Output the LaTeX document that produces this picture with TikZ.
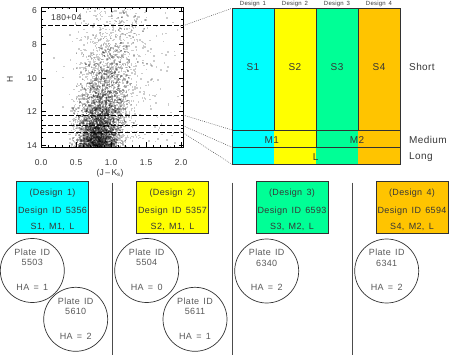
\documentclass[tikz,border=0pt]{standalone}
\usepackage{fontspec}
\setmainfont{Liberation Sans}
\newfontfamily\widefont[LetterSpace=4]{Liberation Sans}
\newfontfamily\widerfont[LetterSpace=4,WordSpace=1.5]{Liberation Sans}
\definecolor{dcyan}{RGB}{0,255,255}
\definecolor{dyellow}{RGB}{255,255,0}
\definecolor{dgreen}{RGB}{0,255,150}
\definecolor{dorange}{RGB}{255,196,0}
\definecolor{txt}{RGB}{55,55,55}
\definecolor{lin}{RGB}{50,50,50}
\begin{document}
\begin{tikzpicture}[x=1pt,y=-1pt,
  every node/.style={text=txt, inner sep=0pt},
  ticklab/.style={font=\widefont\fontsize{8.5}{9}\selectfont},
  dashln/.style={draw=black, line width=0.8pt, dash pattern=on 4.5pt off 2.5pt},
  dotln/.style={draw=black!70, line width=0.5pt, dash pattern=on 0.8pt off 1.2pt},
  panelln/.style={draw=lin, line width=0.8pt},
  colbox/.style={minimum width=42pt, minimum height=156pt, draw=none},
  dbox/.style={draw=lin, line width=0.7pt, minimum width=72pt, minimum height=52pt},
  dtext/.style={font=\widerfont\fontsize{9}{10}\selectfont},
  plate/.style={circle, draw=lin, line width=0.7pt, minimum size=64pt},
  ptext/.style={font=\widerfont\fontsize{9}{10}\selectfont, text=black!65},
  seprule/.style={draw=black!70, line width=0.9pt},
  rowlab/.style={font=\widefont\fontsize{10}{11}\selectfont, anchor=west},
  collab/.style={font=\widefont\fontsize{6}{7}\selectfont},
  slab/.style={font=\widefont\fontsize{10}{11}\selectfont}
]
\useasboundingbox (0,0) rectangle (449,355);

% ---------- scatter plot ----------
\pgfmathsetseed{271}
\begin{scope}
\clip (41,7.3) rectangle (183,147);
\begin{scope}[fill opacity=0.2]
\foreach \i in {1,...,4600}{
  \pgfmathsetmacro{\myH}{14.3+2.6*ln(0.0005+0.9995*rnd)}
  \pgfmathsetmacro{\myG}{2*(rnd+rnd+rnd-1.5)}
  \pgfmathsetmacro{\myC}{0.79+0.03*(14-\myH)+(0.15+0.01*(14-\myH))*\myG}
  \fill[black] ({41+\myC*70},{11+(\myH-6)*16.8}) rectangle ++(1.5,1.5);
}
\foreach \i in {1,...,700}{
  \pgfmathsetmacro{\myH}{14.3+3.5*ln(0.0005+0.9995*rnd)}
  \pgfmathsetmacro{\myG}{2*(rnd+rnd+rnd-1.5)}
  \pgfmathsetmacro{\myC}{0.88+0.04*(14-\myH)+(0.2+0.03*(14-\myH))*\myG}
  \fill[black] ({41+\myC*70},{11+(\myH-6)*16.8}) rectangle ++(1.5,1.5);
}
\foreach \i in {1,...,150}{
  \pgfmathsetmacro{\myC}{0.6+1.4*rnd}
  \pgfmathsetmacro{\myH}{5.8+8.4*sqrt(rnd)}
  \fill[black] ({41+\myC*70},{11+(\myH-6)*16.8}) rectangle ++(1.5,1.5);
}
\end{scope}
\end{scope}
\node[ticklab, anchor=west] (field) at (51,18) {180+04};
% dashed selections
\coordinate (h1) at (183,25.7);
\coordinate (h2) at (183,115);
\coordinate (h3) at (183,125.7);
\coordinate (h4) at (183,132.7);
\draw[dashln] (41,25.7) -- (h1);
\draw[dashln] (41,115) -- (h2);
\draw[dashln] (41,125.7) -- (h3);
\draw[dashln] (41,132.7) -- (h4);
% frame and ticks
\draw[line width=0.8pt] (41,7.3) rectangle (183,147);
\foreach \c in {0,0.1,...,2.01}{
  \draw[line width=0.6pt] ({41+\c*70},147) -- ++(0,-2);
  \draw[line width=0.6pt] ({41+\c*70},7.3) -- ++(0,2);
}
\foreach \c/\l in {0/0.0,0.5/0.5,1/1.0,1.5/1.5,2/2.0}{
  \draw[line width=0.7pt] ({41+\c*70},147) -- ++(0,-4.5);
  \draw[line width=0.7pt] ({41+\c*70},7.3) -- ++(0,4.5);
  \node[ticklab] at ({41+\c*70},163) {\l};
}
\foreach \h in {6,6.5,...,14}{
  \draw[line width=0.6pt] (41,{11+(\h-6)*16.8}) -- ++(2,0);
  \draw[line width=0.6pt] (183,{11+(\h-6)*16.8}) -- ++(-2,0);
}
\foreach \h in {6,8,10,12,14}{
  \draw[line width=0.7pt] (41,{11+(\h-6)*16.8}) -- ++(4.5,0);
  \draw[line width=0.7pt] (183,{11+(\h-6)*16.8}) -- ++(-4.5,0);
  \node[ticklab, anchor=east] at (37,{11+(\h-6)*16.8}) {\h};
}
\node[ticklab] (xlab) at (110,173) {(J\,–\,K\textsubscript{s})};
\node[ticklab, rotate=90] (ylab) at (10,79) {H};

% ---------- design panel ----------
\node[colbox, fill=dcyan]   (c1) at (253,86.3) {};
\node[colbox, fill=dyellow] (c2) at (295,86.3) {};
\node[colbox, fill=dgreen]  (c3) at (337,86.3) {};
\node[colbox, fill=dorange] (c4) at (379,86.3) {};
\coordinate (p1) at (232,8.3);
\coordinate (p2) at (232,130);
\coordinate (p3) at (232,147.3);
\coordinate (p4) at (232,164.3);
\draw[panelln] (232,8.3) rectangle (400,164.3);
\draw[panelln] (p2) -- (400,130);
\draw[panelln] (p3) -- (400,147.3);
\draw[panelln] (274,8.3) -- (274,130);
\draw[panelln] (358,8.3) -- (358,130);
\draw[panelln] (316,8.3) -- (316,147.3);
\foreach \k/\x in {1/253,2/295,3/337,4/379}{
  \node[collab] at (\x,3.5) {Design \k};
  \node[slab] at (\x,66.7) {S\k};
}
\node[slab] (m1) at (271.7,140) {M1};
\node[slab] (m2) at (357,140) {M2};
\node[slab] (ll) at (315.7,157) {L};
\node[rowlab] (short) at (409,66.7) {Short};
\node[rowlab] (medium) at (409,140) {Medium};
\node[rowlab] (long) at (409,157) {Long};
% dotted connectors
\draw[dotln] (h1) -- (p1);
\draw[dotln] (h2) -- (p2);
\draw[dotln] (h3) -- (p3);
\draw[dotln] (h4) -- (p4);

% ---------- bottom: designs and plates ----------
\coordinate (s1top) at (112.7,182.7); \coordinate (s1bot) at (112.7,355);
\coordinate (s2top) at (232.3,182.7); \coordinate (s2bot) at (232.3,355);
\coordinate (s3top) at (352.3,182.7); \coordinate (s3bot) at (352.3,355);
\draw[seprule] (s1top) -- (s1bot);
\draw[seprule] (s2top) -- (s2bot);
\draw[seprule] (s3top) -- (s3bot);

\foreach \k/\x/\col/\id/\s/\m in {1/52.5/dcyan/5356/S1/M1, 2/172.5/dyellow/5357/S2/M1, 3/292/dgreen/6593/S3/M2, 4/412/dorange/6594/S4/M2}{
  \node[dbox, fill=\col] (d\k) at (\x,207.5) {};
  \node[dtext] at (\x,193.3) {(Design \k)};
  \node[dtext] at (\x,210.7) {Design ID \id};
  \node[dtext] at (\x,227.3) {\s, \m, L};
}

\foreach \n/\x/\y/\pid/\ha in {a/32.3/270.5/5503/1, b/75.7/319.3/5610/2, c/146.7/270.5/5504/0, d/195/319.3/5611/1, e/266.7/271/6340/2, f/386.7/271/6341/2}{
  \node[plate] (pl\n) at (\x,\y) {};
  \node[ptext] at (\x,\y-18.3) {Plate ID};
  \node[ptext] at (\x,\y-7.7) {\pid};
  \node[ptext] at (\x,\y+16.7) {HA = \ha};
}
\end{tikzpicture}
\end{document}
